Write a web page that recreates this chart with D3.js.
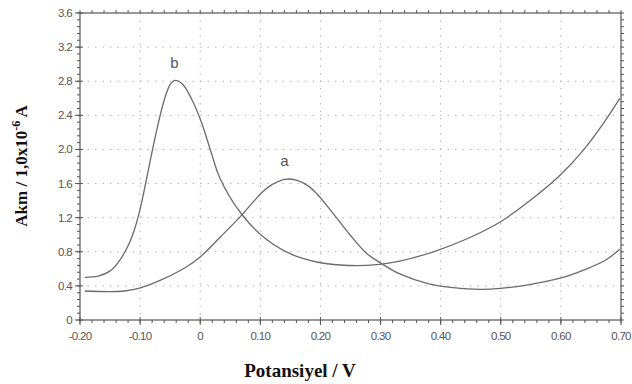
<!DOCTYPE html>
<html>
<head>
<meta charset="utf-8">
<script src="https://cdn.jsdelivr.net/npm/d3@7"></script>
<style>
  body { margin: 0; background: #fff; }
  svg { display: block; }
</style>
</head>
<body>
<script>
// curve a
const potA = [-0.192, -0.126, -0.098, -0.065, -0.026, 0.0, 0.033, 0.069, 0.090, 0.105, 0.120, 0.141, 0.160, 0.180, 0.194, 0.221, 0.249, 0.277, 0.302, 0.332, 0.382, 0.421, 0.466, 0.499, 0.543, 0.599, 0.643, 0.676, 0.698];
const akmA = [0.34, 0.34, 0.38, 0.47, 0.61, 0.74, 0.97, 1.23, 1.40, 1.51, 1.59, 1.65, 1.64, 1.57, 1.48, 1.25, 1.00, 0.78, 0.66, 0.54, 0.42, 0.38, 0.36, 0.37, 0.41, 0.49, 0.60, 0.71, 0.83];
// curve b
const potB = [-0.192, -0.170, -0.151, -0.137, -0.120, -0.109, -0.100, -0.092, -0.084, -0.070, -0.059, -0.050, -0.042, -0.030, -0.015, 0.002, 0.018, 0.033, 0.069, 0.111, 0.155, 0.194, 0.233, 0.277, 0.302, 0.332, 0.388, 0.443, 0.499, 0.554, 0.599, 0.637, 0.671, 0.698];
const akmB = [0.50, 0.515, 0.57, 0.67, 0.87, 1.07, 1.30, 1.56, 1.84, 2.30, 2.60, 2.76, 2.81, 2.77, 2.60, 2.32, 1.97, 1.66, 1.24, 0.94, 0.76, 0.68, 0.645, 0.64, 0.655, 0.69, 0.80, 0.95, 1.15, 1.43, 1.70, 1.99, 2.31, 2.60];

const xTicks = [-0.2, -0.1, 0, 0.1, 0.2, 0.3, 0.4, 0.5, 0.6, 0.7];
const xTickLabels = ["-0.20", "-0.10", "0", "0.10", "0.20", "0.30", "0.40", "0.50", "0.60", "0.70"];
const yTicks = [0, 0.4, 0.8, 1.2, 1.6, 2.0, 2.4, 2.8, 3.2, 3.6];
const yTickLabels = ["0", "0.4", "0.8", "1.2", "1.6", "2.0", "2.4", "2.8", "3.2", "3.6"];

const width = 632, height = 384;
const mLeft = 80, mRight = 621, mTop = 13, mBottom = 320;

const svg = d3.select("body").append("svg").attr("width", width).attr("height", height);

const x = d3.scaleLinear().domain([-0.2, 0.7]).range([mLeft, mRight]);
const y = d3.scaleLinear().domain([0, 3.6]).range([mBottom, mTop]);

const axisCol = "#555";

// dotted grid
svg.append("g").selectAll("line").data(xTicks.slice(1, -1)).join("line")
  .attr("x1", d => x(d)).attr("x2", d => x(d)).attr("y1", mTop).attr("y2", mBottom)
  .attr("stroke", "#b5b5b5").attr("stroke-width", 1).attr("stroke-dasharray", "1.5,6");
svg.append("g").selectAll("line").data(yTicks.slice(1, -1)).join("line")
  .attr("x1", mLeft).attr("x2", mRight).attr("y1", d => y(d)).attr("y2", d => y(d))
  .attr("stroke", "#b5b5b5").attr("stroke-width", 1).attr("stroke-dasharray", "1.5,6");

// minor tick positions
const xMinor = d3.range(-0.2, 0.7001, 0.02);
const yMinor = d3.range(0, 3.6001, 0.08);

// frame
svg.append("rect").attr("x", mLeft).attr("y", mTop).attr("width", mRight - mLeft).attr("height", mBottom - mTop)
  .attr("fill", "none").attr("stroke", axisCol).attr("stroke-width", 1.2);

const ticks = svg.append("g").attr("stroke", axisCol).attr("stroke-width", 1);
// bottom
ticks.append("g").selectAll("line").data(xMinor).join("line")
  .attr("x1", d => x(d)).attr("x2", d => x(d)).attr("y1", mBottom).attr("y2", mBottom + 3);
ticks.append("g").selectAll("line").data(xTicks).join("line")
  .attr("x1", d => x(d)).attr("x2", d => x(d)).attr("y1", mBottom - 3).attr("y2", mBottom + 5);
// top
ticks.append("g").selectAll("line").data(xMinor).join("line")
  .attr("x1", d => x(d)).attr("x2", d => x(d)).attr("y1", mTop).attr("y2", mTop - 3);
// left
ticks.append("g").selectAll("line").data(yMinor).join("line")
  .attr("x1", mLeft - 3).attr("x2", mLeft).attr("y1", d => y(d)).attr("y2", d => y(d));
ticks.append("g").selectAll("line").data(yTicks).join("line")
  .attr("x1", mLeft - 5).attr("x2", mLeft + 3).attr("y1", d => y(d)).attr("y2", d => y(d));
// right
ticks.append("g").selectAll("line").data(yMinor).join("line")
  .attr("x1", mRight).attr("x2", mRight + 3).attr("y1", d => y(d)).attr("y2", d => y(d));

// tick labels
svg.append("g").selectAll("text").data(xTicks).join("text")
  .attr("x", d => x(d)).attr("y", mBottom + 20)
  .attr("text-anchor", "middle")
  .attr("font-family", "Liberation Sans, Arial, sans-serif").attr("font-size", 11.5)
  .attr("letter-spacing", -0.7).attr("fill", "#555")
  .text((d, i) => xTickLabels[i]);
svg.append("g").selectAll("text").data(yTicks).join("text")
  .attr("x", mLeft - 8).attr("y", d => y(d) + 4)
  .attr("text-anchor", "end")
  .attr("font-family", "Liberation Sans, Arial, sans-serif").attr("font-size", 11.5)
  .attr("letter-spacing", -0.7).attr("fill", "#555")
  .text((d, i) => yTickLabels[i]);

// curves
const line = d3.line().x(d => x(d[0])).y(d => y(d[1])).curve(d3.curveCatmullRom.alpha(0.5));
svg.append("path").datum(d3.zip(potA, akmA)).attr("d", line)
  .attr("fill", "none").attr("stroke", "#6a6a6a").attr("stroke-width", 1.3);
svg.append("path").datum(d3.zip(potB, akmB)).attr("d", line)
  .attr("fill", "none").attr("stroke", "#6a6a6a").attr("stroke-width", 1.3);

// curve labels
svg.append("text").attr("x", x(-0.043)).attr("y", 68).attr("text-anchor", "middle")
  .attr("font-family", "Liberation Sans, Arial, sans-serif").attr("font-size", 15).attr("fill", "#555").text("b");
svg.append("text").attr("x", x(0.14)).attr("y", 166).attr("text-anchor", "middle")
  .attr("font-family", "Liberation Sans, Arial, sans-serif").attr("font-size", 15).attr("fill", "#555").text("a");

// axis titles
const yt = svg.append("text")
  .attr("transform", "translate(27,166) rotate(-90)")
  .attr("text-anchor", "middle")
  .attr("font-family", "Liberation Serif, Times New Roman, serif").attr("font-size", 17)
  .attr("font-weight", "bold").attr("fill", "#111");
yt.append("tspan").text("Akm / 1,0x10");
yt.append("tspan").attr("dy", -7).attr("font-size", 12).text("-6");
yt.append("tspan").attr("dy", 7).text(" A");

svg.append("text").attr("x", 300).attr("y", 377).attr("text-anchor", "middle")
  .attr("font-family", "Liberation Serif, Times New Roman, serif").attr("font-size", 19)
  .attr("font-weight", "bold").attr("fill", "#111").text("Potansiyel / V");
</script>
</body>
</html>
